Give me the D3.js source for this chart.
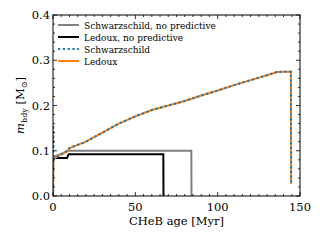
<!DOCTYPE html>
<html><head><meta charset="utf-8">
<script src="https://cdn.jsdelivr.net/npm/d3@7"></script>
<style>body{margin:0;background:#fff}svg{display:block}</style>
</head><body><svg id="c" width="320" height="243"></svg>
<script>
const seriesNames = ["Schwarzschild, no predictive","Ledoux, no predictive","Schwarzschild","Ledoux"];
const seriesColors = ["#808080","#000000","#1f77b4","#ff7f0e"];
const schwNoPredAge = [0.3,1,3,6,9,10,84,84.1];
const schwNoPredMass= [0.085,0.087,0.09,0.094,0.1,0.1,0.1,0];
const ledNoPredAge  = [0.3,8.5,9.5,67,67.1];
const ledNoPredMass = [0.084,0.084,0.092,0.092,0];
const ledAge  = [0,0.3,1,3,6,9,10,20,30,40,50,60,70,80,90,100,110,120,130,136,140,144.5,144.6];
const ledMass = [0,0.08,0.084,0.088,0.094,0.1,0.106,0.12,0.14,0.16,0.176,0.19,0.2,0.21,0.222,0.233,0.245,0.256,0.267,0.274,0.2745,0.2745,0.027];
const schAge  = [0,0.15,0.4,1,3,6,9,10,20,30,40,50,60,70,80,90,100,110,120,130,136,140,144.5,144.6];
const schMass = [0,0.157,0.08,0.084,0.088,0.094,0.1,0.106,0.12,0.14,0.16,0.176,0.19,0.2,0.21,0.222,0.233,0.245,0.256,0.267,0.274,0.2745,0.2745,0.027];
const xTicks = [0,50,100,150];
const yTicks = [0.0,0.1,0.2,0.3,0.4];

const FF = "'DejaVu Serif','Liberation Serif',serif";
const svg = d3.select("#c").style("font-family",FF);
const L=53,R=300,T=15,B=196;
const x = d3.scaleLinear().domain([0,150]).range([L,R]);
const y = d3.scaleLinear().domain([0,0.4]).range([B,T]);

svg.append("defs").append("clipPath").attr("id","cp").append("rect")
  .attr("x",L).attr("y",T).attr("width",R-L).attr("height",B-T);

const line = d3.line().x(d=>x(d[0])).y(d=>y(d[1]));
const g = svg.append("g").attr("clip-path","url(#cp)");
const data = [
  {a:schwNoPredAge, m:schwNoPredMass, c:seriesColors[0], dash:null},
  {a:ledNoPredAge, m:ledNoPredMass, c:seriesColors[1], dash:null},
  {a:ledAge, m:ledMass, c:seriesColors[3], dash:null},
  {a:schAge, m:schMass, c:seriesColors[2], dash:"2.2,2.6"}
];
data.forEach(s=>{
  g.append("path").datum(s.a.map((v,i)=>[v,s.m[i]]))
   .attr("d",line).attr("fill","none").attr("stroke",s.c).attr("stroke-width",2)
   .attr("stroke-linejoin","miter").attr("stroke-dasharray",s.dash);
});

const fs = 11.5;
const xMin = d3.range(0,151,5), yMin = d3.range(0,0.4001,0.02);
const tg = svg.append("g").attr("stroke","#000").attr("stroke-width",0.8);
xMin.forEach(v=>{
  const maj = xTicks.includes(v); const len = maj?4:2;
  tg.append("line").attr("x1",x(v)).attr("x2",x(v)).attr("y1",B).attr("y2",B-len);
  tg.append("line").attr("x1",x(v)).attr("x2",x(v)).attr("y1",T).attr("y2",T+len);
});
yMin.forEach(v=>{
  const maj = yTicks.some(t=>Math.abs(t-v)<1e-6); const len = maj?4:2;
  tg.append("line").attr("y1",y(v)).attr("y2",y(v)).attr("x1",L).attr("x2",L+len);
  tg.append("line").attr("y1",y(v)).attr("y2",y(v)).attr("x1",R).attr("x2",R-len);
});
svg.append("rect").attr("x",L).attr("y",T).attr("width",R-L).attr("height",B-T)
  .attr("fill","none").attr("stroke","#000").attr("stroke-width",1);

xTicks.forEach(v=>svg.append("text").attr("x",x(v)).attr("y",B+15).attr("text-anchor","middle")
  .style("font-size",fs+"px").text(v));
yTicks.forEach(v=>svg.append("text").attr("x",L-3).attr("y",y(v)+4).attr("text-anchor","end")
  .style("font-size",fs+"px").text(v.toFixed(1)));

svg.append("text").attr("x",(L+R)/2).attr("y",B+29).attr("text-anchor","middle")
  .style("font-size",fs+"px").text("CHeB age [Myr]");

const yl = svg.append("text").attr("transform",`translate(24,${(T+B)/2}) rotate(-90)`)
  .attr("text-anchor","middle").style("font-size",fs+"px");
yl.append("tspan").style("font-style","italic").text("m");
yl.append("tspan").style("font-size","8px").attr("dy",3).text("bdy");
yl.append("tspan").attr("dy",-3).text(" [M");
yl.append("tspan").style("font-size","8px").attr("dy",3).text("⊙");
yl.append("tspan").attr("dy",-3).text("]");

const lg = svg.append("g");
[0,1,2,3].forEach((k,i)=>{
  const yy = 25 + i*12;
  lg.append("line").attr("x1",58).attr("x2",79).attr("y1",yy).attr("y2",yy)
    .attr("stroke",seriesColors[k]).attr("stroke-width",2)
    .attr("stroke-dasharray",k===2?"2.2,2.6":null);
  lg.append("text").attr("x",84).attr("y",yy+3.5).style("font-size","9px").text(seriesNames[k]);
});
</script></body></html>
